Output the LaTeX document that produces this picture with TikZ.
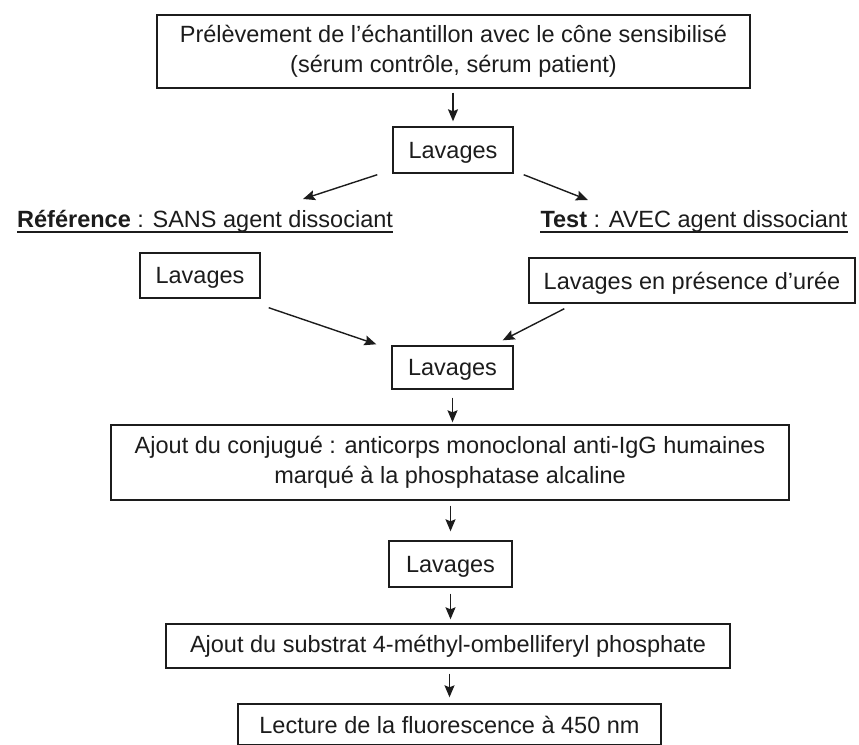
\documentclass[tikz,border=0pt]{standalone}
\usepackage{fontspec}
\setmainfont{Liberation Sans}
\usetikzlibrary{arrows.meta}
\definecolor{ink}{RGB}{28,28,28}
\begin{document}
\begin{tikzpicture}[x=1pt,y=-1pt,
  box/.style={draw=ink, line width=1.4pt, rectangle, inner sep=0pt, align=center,
    text=ink, font=\fontsize{23.5}{29.5}\selectfont},
  onel/.style={box, text depth=0pt},
  lbl/.style={inner sep=0pt, text=ink, font=\fontsize{23.5}{29.5}\selectfont},
  uline/.style={draw=ink, line width=1.4pt},
  arr/.style={draw=ink, line width=1.4pt, -{Stealth[length=12pt,width=10pt,inset=2pt]}}
]
\useasboundingbox (0,0) rectangle (859,744);

\node[box, minimum width=593pt, minimum height=73pt] (top) at (453.5,51.5)
  {Prélèvement de l’échantillon avec le cône sensibilisé\\(sérum contrôle, sérum patient)};
\node[onel, minimum width=120pt, minimum height=46pt] (lav1) at (453,150) {Lavages};

\node[lbl, anchor=base west] (ref) at (17,227)
  {\textbf{Référence} : SANS agent dissociant};
\node[lbl, anchor=base] (test) at (694,227)
  {\textbf{Test} : AVEC agent dissociant};
\draw[uline] ([shift={(0,5)}]ref.base west) -- ([shift={(0,5)}]ref.base east);
\draw[uline] ([shift={(0,5)}]test.base west) -- ([shift={(0,5)}]test.base east);

\node[onel, minimum width=120pt, minimum height=45pt] (lavL) at (200,275.5) {Lavages};
\node[onel, minimum width=326pt, minimum height=45pt] (lavR) at (692,280.5) {Lavages en présence d’urée};

\node[onel, minimum width=121pt, minimum height=43pt] (lav2) at (452.5,367.5) {Lavages};
\node[box, minimum width=678pt, minimum height=75pt] (conj) at (450,462.5)
  {Ajout du conjugué : anticorps monoclonal anti-IgG humaines\\marqué à la phosphatase alcaline};
\node[onel, minimum width=123pt, minimum height=46pt] (lav3) at (450.5,564) {Lavages};
\node[box, minimum width=564pt, minimum height=44pt] (subst) at (448,646)
  {Ajout du substrat 4-méthyl-ombelliferyl phosphate};
\node[box, minimum width=423pt, minimum height=41pt] (lect) at (449.5,724.5)
  {Lecture de la fluorescence à 450 nm};

% connectors
\draw[arr, shorten <=4pt, shorten >=5pt] (top.south -| lav1.north) -- (lav1.north);
\draw[arr] ([shift={(-15,1)}]lav1.south west) -- ([shift={(286,-28)}]ref.base west);
\draw[arr] ([shift={(10,1)}]lav1.south east) -- ([shift={(-106,-27)}]test.base);
\draw[arr] ([shift={(8,9)}]lavL.south east) -- ([shift={(-15,-1)}]lav2.north west);
\draw[arr] ([shift={(36,5)}]lavR.south west) -- ([shift={(-11,-5)}]lav2.north east);
\draw[arr, shorten <=8pt, shorten >=2pt] (lav2.south) -- (lav2.south |- conj.north);
\draw[arr, shorten <=5pt, shorten >=9pt] (lav3.north |- conj.south) -- (lav3.north);
\draw[arr, shorten <=6pt, shorten >=4pt] (lav3.south) -- (lav3.south |- subst.north);
\draw[arr, shorten <=5pt, shorten >=6pt] (subst.south -| lect.north) -- (lect.north);
\end{tikzpicture}
\end{document}
